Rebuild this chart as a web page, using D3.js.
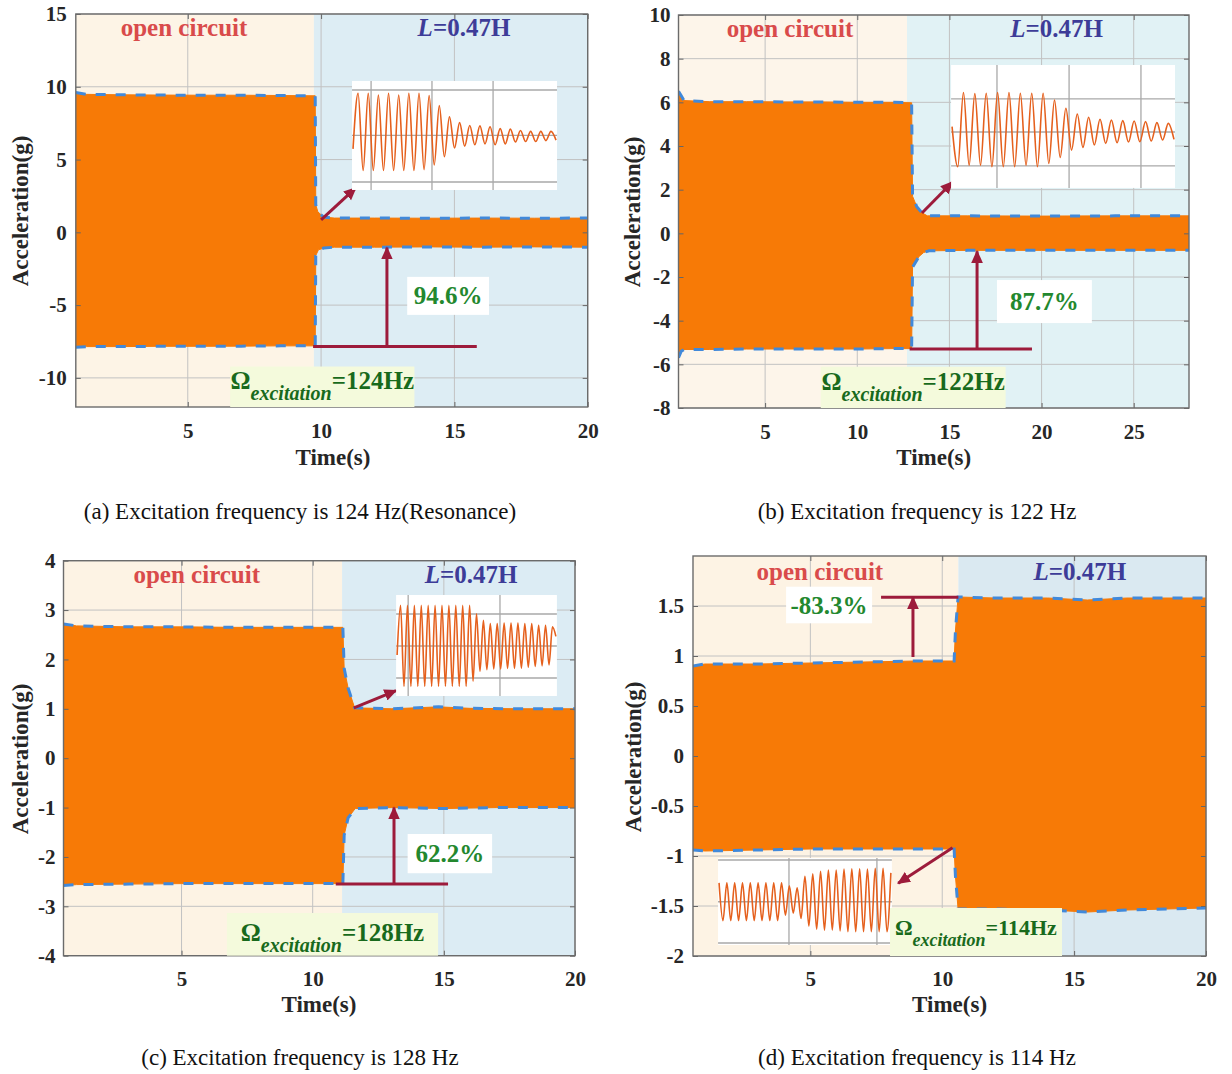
<!DOCTYPE html>
<html>
<head>
<meta charset="utf-8">
<script src="https://cdn.jsdelivr.net/npm/d3@7/dist/d3.min.js"></script>
<style>
  html,body{margin:0;padding:0;background:#ffffff;}
  svg{display:block;}
</style>
</head>
<body>
<svg id="fig" width="1232" height="1074"></svg>
<script>
// ================= DATA =================
const captions = [
  "(a) Excitation frequency is 124 Hz(Resonance)",
  "(b) Excitation frequency is 122 Hz",
  "(c) Excitation frequency is 128 Hz",
  "(d) Excitation frequency is 114 Hz"
];
const reductionLabels = ["94.6%", "87.7%", "62.2%", "-83.3%"];
const frequencyLabels = ["=124Hz", "=122Hz", "=128Hz", "=114Hz"];
const openLabel = "open circuit";
const inductLabel = ["L", "=0.47H"];
const omegaLabel = ["\u03A9", "excitation"];
const xAxisTitle = "Time(s)";
const yAxisTitle = "Acceleration(g)";

// (a) 124 Hz
const aTicksX = [5, 10, 15, 20];
const aTicksY = [-10, -5, 0, 5, 10, 15];
const aUpperT = [0.8, 1.2, 2.5, 4, 5.5, 7, 8.5, 9.78, 9.8, 9.88, 10.1, 10.5, 12, 14, 16, 18, 20];
const aUpper  = [9.6, 9.48, 9.45, 9.43, 9.42, 9.42, 9.4, 9.38, 1.9, 1.4, 1.05, 0.98, 0.98, 0.97, 0.98, 0.97, 0.98];
const aLowerT = [0.8, 1.2, 2.5, 4, 5.5, 7, 8.5, 9.78, 9.8, 9.9, 10.1, 10.5, 12, 14, 16, 18, 20];
const aLower  = [-7.9, -7.85, -7.85, -7.83, -7.83, -7.82, -7.8, -7.8, -1.6, -1.2, -1.08, -1.02, -1.02, -1.0, -1.02, -1.0, -1.02];
const aInsetWave = [-0.28, 0.93, -0.75, 0.93, -0.75, 0.89, -0.75, 0.93, -0.75, 0.89, -0.75, 0.93, -0.75, 0.93, -0.73, 0.88,
  -0.63, 0.66, -0.45, 0.42, -0.26, 0.29, -0.22, 0.23, -0.19, 0.22, -0.17, 0.20, -0.19, 0.16, -0.17, 0.15, -0.13, 0.12,
  -0.12, 0.10, -0.12, 0.10, -0.10, 0.10, -0.09];

// (b) 122 Hz
const bTicksX = [5, 10, 15, 20, 25];
const bTicksY = [-8, -6, -4, -2, 0, 2, 4, 6, 8, 10];
const bUpperT = [0.3, 0.45, 0.6, 2, 4, 6, 8, 10, 12, 12.95, 13.0, 13.23, 13.5, 13.8, 16, 20, 24, 28];
const bUpper  = [6.5, 6.3, 6.08, 6.03, 6.03, 6.02, 6.02, 6.0, 6.0, 5.98, 1.7, 1.22, 0.95, 0.8, 0.8, 0.79, 0.8, 0.8];
const bLowerT = [0.3, 0.45, 0.6, 2, 4, 6, 8, 10, 12, 12.95, 13.0, 13.34, 13.6, 13.9, 16, 20, 24, 28];
const bLower  = [-5.7, -5.4, -5.32, -5.32, -5.3, -5.3, -5.3, -5.3, -5.28, -5.28, -1.55, -1.07, -0.88, -0.8, -0.78, -0.78, -0.78, -0.78];
const bInsetWave = [0.17, -1.03, 1.19, -0.98, 1.16, -0.98, 1.17, -1.03, 1.19, -1.03, 1.19, -1.03, 1.17, -0.98, 1.17, -1.03,
  1.17, -0.93, 0.97, -0.75, 0.72, -0.53, 0.55, -0.45, 0.45, -0.38, 0.39, -0.33, 0.37, -0.31, 0.35, -0.29, 0.34, -0.28,
  0.32, -0.26, 0.29, -0.23, 0.27, -0.21];

// (c) 128 Hz
const cTicksX = [5, 10, 15, 20];
const cTicksY = [-4, -3, -2, -1, 0, 1, 2, 3, 4];
const cUpperT = [0.5, 1, 3, 5, 7, 9, 11.15, 11.2, 11.35, 11.6, 13, 14.8, 16, 18, 20];
const cUpper  = [2.72, 2.68, 2.66, 2.66, 2.65, 2.65, 2.65, 1.82, 1.42, 1.02, 1.0, 1.04, 1.01, 1.0, 1.0];
const cLowerT = [0.5, 1, 3, 5, 7, 9, 11.15, 11.2, 11.35, 11.62, 13, 15, 17, 20];
const cLower  = [-2.58, -2.56, -2.55, -2.54, -2.54, -2.54, -2.54, -1.56, -1.21, -1.02, -1.0, -1.02, -1.0, -1.0];
const cInsetWave = [-0.28, 1.27, -1.26, 1.27, -1.26, 1.27, -1.26, 1.27, -1.26, 1.27, -1.26, 1.27, -1.26, 1.27, -1.26,
  1.27, -1.26, 1.27, -1.26, 1.27, -1.26, 1.27, -1.10, 1.01, -0.79, 0.80, -0.74, 0.70, -0.72, 0.70, -0.72, 0.72, -0.70,
  0.72, -0.70, 0.72, -0.69, 0.70, -0.66, 0.70, -0.64, 0.65, -0.62, 0.65, -0.59, 0.60, 0.30];

// (d) 114 Hz
const dTicksX = [5, 10, 15, 20];
const dTicksY = [-2, -1.5, -1, -0.5, 0, 0.5, 1, 1.5];
const dUpperT = [0.55, 1, 3, 5, 7, 9, 10.45, 10.5, 10.6, 12, 14, 15.5, 17, 20];
const dUpper  = [0.9, 0.92, 0.92, 0.93, 0.94, 0.95, 0.95, 1.25, 1.59, 1.58, 1.58, 1.56, 1.58, 1.58];
const dLowerT = [0.55, 1, 3, 5, 7, 9, 10.45, 10.5, 10.6, 12, 14, 15.5, 17, 20];
const dLower  = [-0.94, -0.95, -0.94, -0.93, -0.93, -0.93, -0.93, -1.2, -1.53, -1.53, -1.54, -1.56, -1.54, -1.52];
const dInsetWave = [0.45, -0.46, 0.45, -0.46, 0.45, -0.46, 0.45, -0.46, 0.45, -0.46, 0.45, -0.46, 0.45, -0.46, 0.45,
  -0.46, 0.45, -0.33, 0.38, -0.28, 0.33, -0.41, 0.61, -0.59, 0.67, -0.67, 0.73, -0.69, 0.76, -0.69, 0.76, -0.71, 0.78,
  -0.73, 0.79, -0.73, 0.79, -0.73, 0.78, -0.73, 0.80, -0.73, 0.80, -0.73, 0.69];

const series = [
  {tx: aTicksX, ty: aTicksY, upT: aUpperT, up: aUpper, loT: aLowerT, lo: aLower, wave: aInsetWave},
  {tx: bTicksX, ty: bTicksY, upT: bUpperT, up: bUpper, loT: bLowerT, lo: bLower, wave: bInsetWave},
  {tx: cTicksX, ty: cTicksY, upT: cUpperT, up: cUpper, loT: cLowerT, lo: cLower, wave: cInsetWave},
  {tx: dTicksX, ty: dTicksY, upT: dUpperT, up: dUpper, loT: dLowerT, lo: dLower, wave: dInsetWave}
];

// ================= LAYOUT / STYLE =================
const SERIF = '"Liberation Serif","Times New Roman",Times,serif';
const ORANGE = '#f77a06';
const BLUE = '#4189da';
const CRIMSON = '#9d1b3b';
const GREEN = '#23882e';
const DKGREEN = '#186a1c';
const OCRED = '#d94b4b';
const NAVY = '#3d3c98';

const layout = [
  {box:{l:75.8,r:587.7,t:14,b:407}, xDomain:[0.8,20], yDomain:[-12,15], split:9.73, oc:'#fdf4e6', lc:'#ddedf4',
   ocX:4.86, lX:15.36, labY:13.49, xPad:16, yPad:9,
   bar:[9.7,15.84,-7.85], vArrow:[12.47,-7.85,-1.05], pctBox:[13.23,16.3,-3.06,-5.67], dArrow:[10.0,0.86,11.3,3.05],
   inset:{t0:11.16,t1:18.85,yTop:10.4,yBot:2.91,h:[0.083,0.5,0.927],v:[0.093,0.39,0.688]},
   omega:{t0:6.59,t1:13.5,yTop:-9.22,base:-10.76,fs:[25,20]},
   yLab:[28,211], xLab:[333,465], cap:[300,519]},
  {box:{l:678.5,r:1189,t:15,b:408}, xDomain:[0.3,28], yDomain:[-8,10], split:12.7, oc:'#fdf5ea', lc:'#e1f2f5',
   ocX:6.35, lX:20.82, labY:8.99, xPad:16, yPad:8,
   bar:[12.84,19.48,-5.3], vArrow:[16.5,-5.3,-0.82], pctBox:[17.58,22.73,-2.14,-4.11], dArrow:[13.51,0.93,15.17,2.35],
   inset:{t0:15.09,t1:27.24,yTop:7.71,yBot:2.08,h:[0.276,0.545,0.82],v:[0.205,0.527,0.848]},
   omega:{t0:8.02,t1:18.05,yTop:-6.11,base:-7.18,fs:[25,20]},
   yLab:[640,212], xLab:[933.7,465], cap:[917,519]},
  {box:{l:63.5,r:575,t:560.7,b:955.7}, xDomain:[0.5,20], yDomain:[-4,4], split:11.12, oc:'#fdf3e4', lc:'#dcecf4',
   ocX:5.58, lX:16.04, labY:3.54, xPad:15.5, yPad:8,
   bar:[10.88,15.16,-2.55], vArrow:[13.1,-2.55,-1.0], pctBox:[13.62,16.84,-1.535,-2.33], dArrow:[11.57,1.02,13.18,1.37],
   inset:{t0:13.18,t1:19.31,yTop:3.305,yBot:1.26,h:[0.188,0.505,0.822],v:[0.075,0.646]},
   omega:{t0:6.73,t1:14.78,yTop:-3.135,base:-3.70,fs:[25,20]},
   yLab:[28,759], xLab:[319,1011.7], cap:[300,1065]},
  {box:{l:693,r:1206,t:556,b:956}, xDomain:[0.55,20], yDomain:[-2,2], split:10.61, oc:'#fdf3e4', lc:'#dae9f1',
   ocX:5.36, lX:15.22, labY:1.76, xPad:15.5, yPad:9,
   bar:[7.68,10.61,1.587], vArrow:[8.89,0.99,1.587], pctBox:[4.08,7.34,1.693,1.327], dArrow:[10.39,-0.917,8.33,-1.273],
   inset:{t0:1.50,t1:8.09,yTop:-1.02,yBot:-1.89,h:[0.023,0.503,0.977],v:[0.408,0.914]},
   omega:{t0:8.02,t1:14.54,yTop:-1.52,base:-1.79,fs:[22,18]},
   yLab:[641,757], xLab:[949.6,1011.7], cap:[917,1065]}
];

// ================= DRAW =================
const svg = d3.select('#fig');
svg.append('rect').attr('width',1232).attr('height',1074).attr('fill','#ffffff');
const defs = svg.append('defs');
defs.append('marker').attr('id','head').attr('viewBox','0 0 10 10')
  .attr('refX',9).attr('refY',5).attr('markerWidth',13).attr('markerHeight',13)
  .attr('markerUnits','userSpaceOnUse').attr('orient','auto')
  .append('path').attr('d','M0,0.5 L10,5 L0,9.5 Z').attr('fill',CRIMSON);

const fmt = d => String(d);

function drawPanel(S, L, i) {
  const x = d3.scaleLinear().domain(L.xDomain).range([L.box.l, L.box.r]);
  const y = d3.scaleLinear().domain(L.yDomain).range([L.box.b, L.box.t]);
  const g = svg.append('g');
  const clipId = 'clip' + i;
  defs.append('clipPath').attr('id', clipId).append('rect')
    .attr('x', L.box.l).attr('y', L.box.t).attr('width', L.box.r - L.box.l).attr('height', L.box.b - L.box.t);

  const x0 = L.xDomain[0], x1 = L.xDomain[1], y0 = L.yDomain[0], y1 = L.yDomain[1];
  g.append('rect').attr('x', x(x0)).attr('y', y(y1)).attr('width', x(L.split) - x(x0)).attr('height', y(y0) - y(y1)).attr('fill', L.oc);
  g.append('rect').attr('x', x(L.split)).attr('y', y(y1)).attr('width', x(x1) - x(L.split)).attr('height', y(y0) - y(y1)).attr('fill', L.lc);

  g.append('g').selectAll('line').data(S.tx).join('line')
    .attr('x1', d => x(d)).attr('x2', d => x(d)).attr('y1', y(y0)).attr('y2', y(y1))
    .attr('stroke', '#c2c2c2').attr('stroke-width', 1);
  g.append('g').selectAll('line').data(S.ty).join('line')
    .attr('y1', d => y(d)).attr('y2', d => y(d)).attr('x1', x(x0)).attr('x2', x(x1))
    .attr('stroke', '#c2c2c2').attr('stroke-width', 1);

  const upPts = S.upT.map((t, k) => [t, S.up[k]]);
  const loPts = S.loT.map((t, k) => [t, S.lo[k]]);
  const line = d3.line().x(d => x(d[0])).y(d => y(d[1]));
  g.append('path').attr('d', line(upPts.concat(loPts.slice().reverse())) + 'Z')
    .attr('fill', ORANGE).attr('stroke', ORANGE).attr('stroke-width', 1)
    .attr('clip-path', `url(#${clipId})`);
  [upPts, loPts].forEach(pts => {
    g.append('path').attr('d', line(pts)).attr('fill', 'none')
      .attr('stroke', BLUE).attr('stroke-width', 3).attr('stroke-dasharray', '10,10')
      .attr('clip-path', `url(#${clipId})`);
  });

  const styleAxis = sel => {
    sel.attr('font-family', SERIF).attr('font-size', 21).attr('font-weight', 'bold');
    sel.select('.domain').remove();
    sel.selectAll('line').attr('stroke', '#666');
    sel.selectAll('text').attr('fill', '#262626');
  };
  g.append('g').attr('transform', `translate(0,${L.box.b})`)
    .call(d3.axisBottom(x).tickValues(S.tx).tickSize(-5).tickPadding(L.xPad).tickFormat(fmt)).call(styleAxis);
  g.append('g').attr('transform', `translate(${L.box.l},0)`)
    .call(d3.axisLeft(y).tickValues(S.ty).tickSize(-5).tickPadding(L.yPad).tickFormat(fmt)).call(styleAxis);
  g.append('g').attr('transform', `translate(0,${L.box.t})`)
    .call(d3.axisTop(x).tickValues(S.tx).tickSize(-5).tickFormat('')).call(styleAxis);
  g.append('g').attr('transform', `translate(${L.box.r},0)`)
    .call(d3.axisRight(y).tickValues(S.ty).tickSize(-5).tickFormat('')).call(styleAxis);
  g.append('rect').attr('x', L.box.l).attr('y', L.box.t).attr('width', L.box.r - L.box.l).attr('height', L.box.b - L.box.t)
    .attr('fill', 'none').attr('stroke', '#6b6b6b').attr('stroke-width', 1.4);

  g.append('text').attr('transform', `translate(${L.yLab[0]},${L.yLab[1]}) rotate(-90)`)
    .attr('text-anchor', 'middle').attr('font-family', SERIF).attr('font-size', 23).attr('font-weight', 'bold')
    .attr('fill', '#262626').text(yAxisTitle);
  g.append('text').attr('x', L.xLab[0]).attr('y', L.xLab[1])
    .attr('text-anchor', 'middle').attr('font-family', SERIF).attr('font-size', 23).attr('font-weight', 'bold')
    .attr('fill', '#262626').text(xAxisTitle);

  g.append('text').attr('x', x(L.ocX)).attr('y', y(L.labY)).attr('text-anchor', 'middle')
    .attr('font-family', SERIF).attr('font-size', 25).attr('font-weight', 'bold').attr('fill', OCRED).text(openLabel);
  const lt = g.append('text').attr('x', x(L.lX)).attr('y', y(L.labY)).attr('text-anchor', 'middle')
    .attr('font-family', SERIF).attr('font-size', 25).attr('font-weight', 'bold').attr('fill', NAVY);
  lt.append('tspan').attr('font-style', 'italic').text(inductLabel[0]);
  lt.append('tspan').text(inductLabel[1]);

  g.append('line').attr('x1', x(L.bar[0])).attr('x2', x(L.bar[1])).attr('y1', y(L.bar[2])).attr('y2', y(L.bar[2]))
    .attr('stroke', CRIMSON).attr('stroke-width', 3);
  g.append('line').attr('x1', x(L.vArrow[0])).attr('x2', x(L.vArrow[0])).attr('y1', y(L.vArrow[1])).attr('y2', y(L.vArrow[2]))
    .attr('stroke', CRIMSON).attr('stroke-width', 3).attr('marker-end', 'url(#head)');
  g.append('line').attr('x1', x(L.dArrow[0])).attr('y1', y(L.dArrow[1])).attr('x2', x(L.dArrow[2])).attr('y2', y(L.dArrow[3]))
    .attr('stroke', CRIMSON).attr('stroke-width', 3).attr('marker-end', 'url(#head)');

  const pb = L.pctBox;
  g.append('rect').attr('x', x(pb[0])).attr('y', y(pb[2])).attr('width', x(pb[1]) - x(pb[0])).attr('height', y(pb[3]) - y(pb[2]))
    .attr('fill', '#ffffff');
  g.append('text').attr('x', (x(pb[0]) + x(pb[1])) / 2).attr('y', (y(pb[2]) + y(pb[3])) / 2 + 8.5)
    .attr('text-anchor', 'middle').attr('font-family', SERIF).attr('font-size', 25).attr('font-weight', 'bold')
    .attr('fill', GREEN).text(reductionLabels[i]);

  const I = L.inset;
  const ix0 = x(I.t0), ix1 = x(I.t1), iy0 = y(I.yTop), iy1 = y(I.yBot);
  const fy = f => iy0 + f * (iy1 - iy0), fx = f => ix0 + f * (ix1 - ix0);
  const ig = g.append('g');
  ig.append('rect').attr('x', ix0).attr('y', iy0).attr('width', ix1 - ix0).attr('height', iy1 - iy0).attr('fill', '#ffffff');
  ig.selectAll('.hg').data(I.h).join('line').attr('class', 'hg')
    .attr('x1', ix0).attr('x2', ix1).attr('y1', d => fy(d)).attr('y2', d => fy(d))
    .attr('stroke', '#a9a9a9').attr('stroke-width', 1.3);
  ig.selectAll('.vg').data(I.v).join('line').attr('class', 'vg')
    .attr('x1', d => fx(d)).attr('x2', d => fx(d)).attr('y1', iy0).attr('y2', iy1)
    .attr('stroke', '#a9a9a9').attr('stroke-width', 1.3);
  const sx = d3.scaleLinear().domain([0, S.wave.length - 1]).range([ix0 + 1, ix1 - 1]);
  const sy = d3.scaleLinear().domain([-1, 1]).range([fy(I.h[2]), fy(I.h[0])]);
  ig.append('path').attr('d', d3.line().x((d, k) => sx(k)).y(d => sy(d)).curve(d3.curveMonotoneX)(S.wave))
    .attr('fill', 'none').attr('stroke', '#e5601d').attr('stroke-width', 1.6);

  const O = L.omega;
  g.append('rect').attr('x', x(O.t0)).attr('y', y(O.yTop)).attr('width', x(O.t1) - x(O.t0)).attr('height', y(y0) - y(O.yTop))
    .attr('fill', '#f4fadc');
  const ot = g.append('text').attr('x', x(O.t0)).attr('y', y(O.base))
    .attr('font-family', SERIF).attr('font-weight', 'bold').attr('fill', DKGREEN);
  ot.append('tspan').attr('font-size', O.fs[0]).text(omegaLabel[0]);
  ot.append('tspan').attr('font-size', O.fs[1]).attr('font-style', 'italic').attr('dy', 11).text(omegaLabel[1]);
  ot.append('tspan').attr('font-size', O.fs[0]).attr('dy', -11).text(frequencyLabels[i]);
  const w = ot.node().getBBox().width;
  ot.attr('x', (x(O.t0) + x(O.t1)) / 2 - w / 2);

  svg.append('text').attr('x', L.cap[0]).attr('y', L.cap[1]).attr('text-anchor', 'middle')
    .attr('font-family', SERIF).attr('font-size', 23).attr('fill', '#111').text(captions[i]);
}

series.forEach((S, i) => drawPanel(S, layout[i], i));
</script>
</body>
</html>
